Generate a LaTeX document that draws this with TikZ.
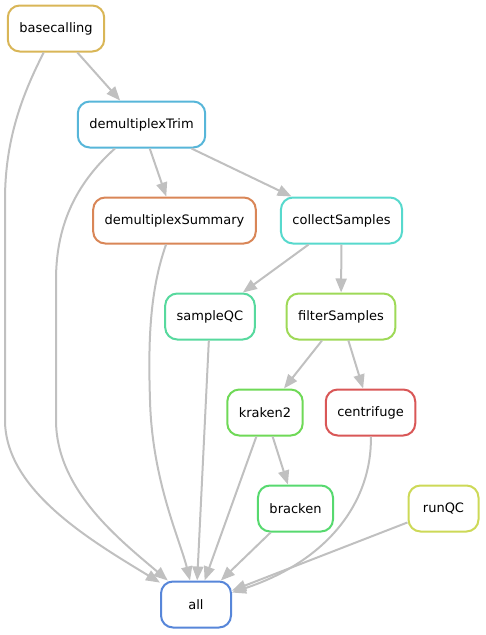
\documentclass[tikz,border=0pt]{standalone}
\usepackage{fontspec}
\setmainfont{DejaVu Sans}
\usetikzlibrary{arrows.meta}

\definecolor{cbase}{RGB}{217,182,87}
\definecolor{cdemux}{RGB}{87,182,217}
\definecolor{csummary}{RGB}{217,134,87}
\definecolor{ccollect}{RGB}{87,217,205}
\definecolor{csampleqc}{RGB}{87,217,158}
\definecolor{cfilter}{RGB}{158,217,87}
\definecolor{ckraken}{RGB}{111,217,87}
\definecolor{ccentri}{RGB}{217,87,87}
\definecolor{cbracken}{RGB}{87,217,111}
\definecolor{crunqc}{RGB}{205,217,87}
\definecolor{call}{RGB}{87,134,217}
\definecolor{edgegray}{RGB}{192,192,192}

\tikzset{
  rulebox/.style={draw, line width=2pt, rounded corners=12pt, fill=white,
    minimum width=70pt, minimum height=46pt, inner xsep=11.5pt,
    font=\fontsize{13}{15}\selectfont},
  dep/.style={draw=edgegray, line width=2pt, -{Triangle[length=14pt,width=11pt]}}
}

\begin{document}
\begin{tikzpicture}[x=1pt, y=-1pt]
  \useasboundingbox (0,0) rectangle (485,635);

  \node[rulebox, draw=cbase] (basecalling) at (56,28.5) {basecalling};
  \node[rulebox, draw=cdemux] (demultiplexTrim) at (141.5,124.5) {demultiplexTrim};
  \node[rulebox, draw=csummary] (demultiplexSummary) at (174.5,220.5) {demultiplexSummary};
  \node[rulebox, draw=ccollect] (collectSamples) at (341.5,220.5) {collectSamples};
  \node[rulebox, draw=csampleqc] (sampleQC) at (210,316.5) {sampleQC};
  \node[rulebox, draw=cfilter] (filterSamples) at (341,316.5) {filterSamples};
  \node[rulebox, draw=ckraken] (kraken2) at (265,412.5) {kraken2};
  \node[rulebox, draw=ccentri] (centrifuge) at (370.5,412.5) {centrifuge};
  \node[rulebox, draw=cbracken] (bracken) at (295.5,508.5) {bracken};
  \node[rulebox, draw=crunqc] (runQC) at (443.5,508.5) {runQC};
  \node[rulebox, draw=call] (all) at (196,604.5) {all};

  \draw[dep] (basecalling) -- (demultiplexTrim);
  \draw[dep] (demultiplexTrim) -- (demultiplexSummary);
  \draw[dep] (demultiplexTrim) -- (collectSamples);
  \draw[dep] (collectSamples) -- (sampleQC);
  \draw[dep] (collectSamples) -- (filterSamples);
  \draw[dep] (filterSamples) -- (kraken2);
  \draw[dep] (filterSamples) -- (centrifuge);
  \draw[dep] (kraken2) -- (bracken);

  % everything ends in all
  \draw[dep] (basecalling) .. controls (22,95) and (5,140) .. (5,200)
    -- (5,420) .. controls (5,490) and (90,540) .. (all);
  \draw[dep] (demultiplexTrim) .. controls (80,180) and (56,220) .. (56,280)
    -- (56,420) .. controls (56,490) and (120,540) .. (all);
  \draw[dep] (demultiplexSummary) .. controls (150,290) and (148,340) .. (150,400)
    .. controls (152,480) and (180,540) .. (all);
  \draw[dep] (sampleQC) -- (all);
  \draw[dep] (kraken2) -- (all);
  \draw[dep] (bracken) -- (all);
  \draw[dep] (centrifuge) .. controls (372,500) and (330,560) .. (all);
  \draw[dep] (runQC) -- (all);
\end{tikzpicture}
\end{document}
